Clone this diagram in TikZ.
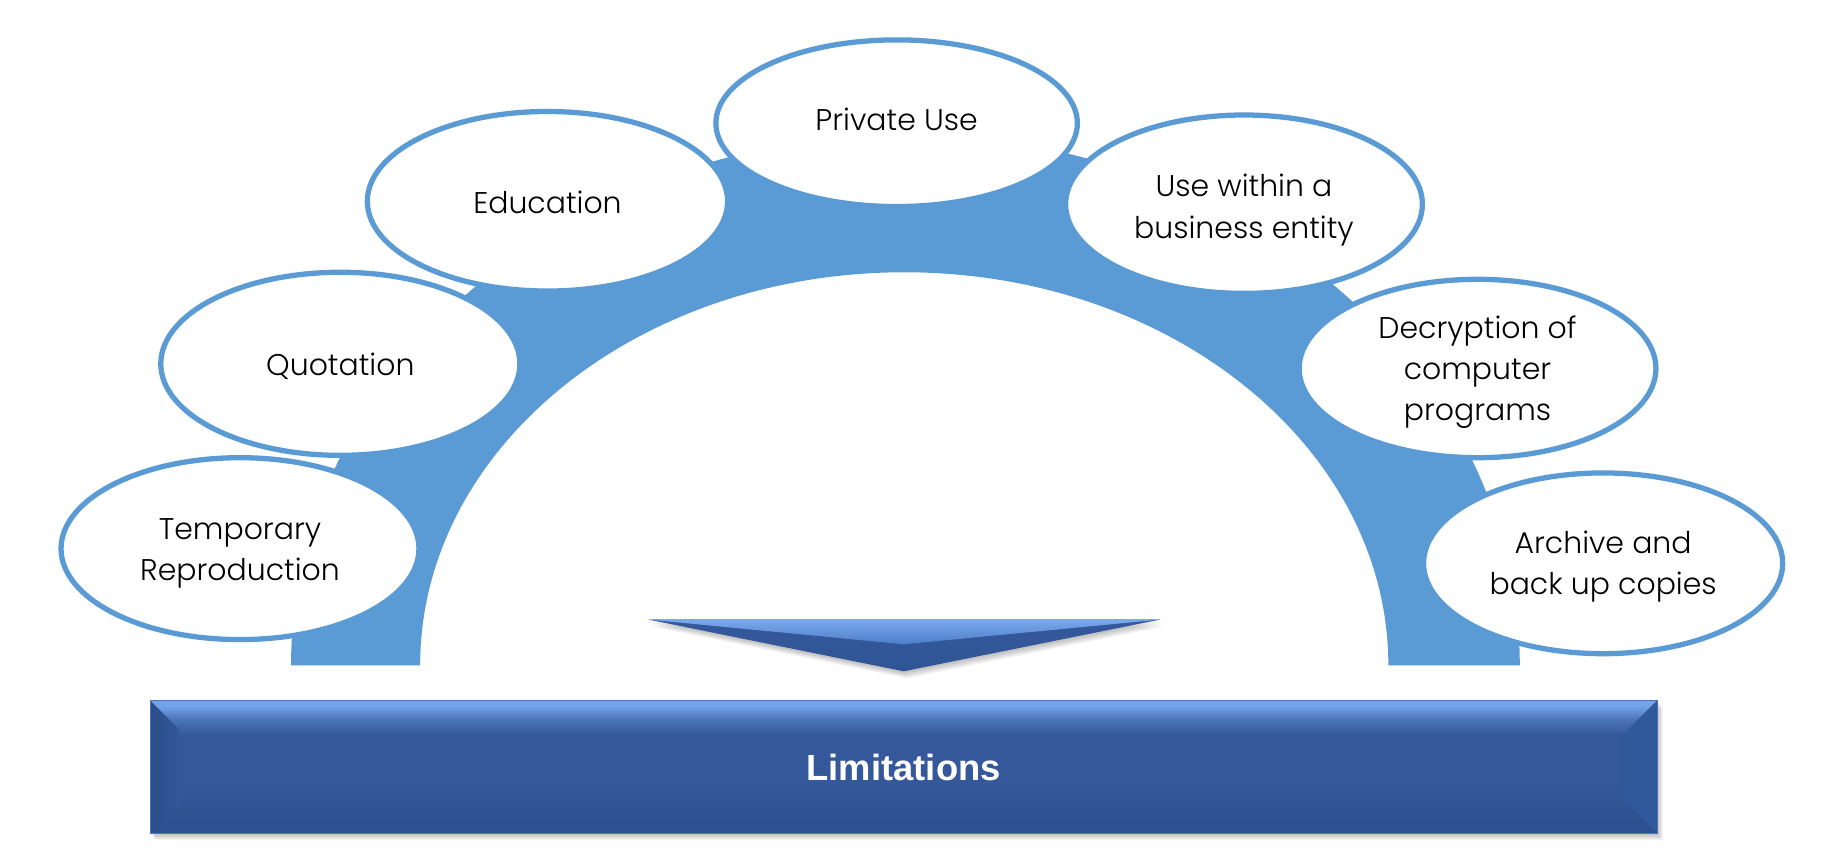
\documentclass[tikz,border=0pt]{standalone}
\usepackage{fontspec}
\setmainfont{Poppins}[UprightFont={* Light}]
\newfontfamily\barfont{Liberation Sans}
\usetikzlibrary{shapes.geometric,calc}
\definecolor{archblue}{HTML}{5B9BD5}
\definecolor{bbot}{HTML}{2C4F8E}
\definecolor{bmid}{HTML}{35589A}
\definecolor{bhi}{HTML}{74A3EA}
\definecolor{bhitwo}{HTML}{4C74B9}
\definecolor{bevl}{HTML}{2B4C88}
\definecolor{bevr}{HTML}{30599B}
\definecolor{tritop}{HTML}{7AA8EE}
\definecolor{trimid}{HTML}{4E7EC8}
\definecolor{tridark}{HTML}{2F5597}
\pgfdeclareverticalshading{barshade}{100bp}{color(0bp)=(bbot); color(25bp)=(bbot); color(45bp)=(bmid); color(62bp)=(bmid); color(68bp)=(bhitwo); color(73bp)=(bhi); color(75bp)=(bhi); color(100bp)=(bhi)}
\tikzset{
  bubble/.style={ellipse, draw=archblue, line width=4.5pt, fill=white, inner sep=0pt},
  btext/.style={align=center, text=black, inner sep=0pt, font=\fontsize{25.5}{35}\selectfont},
  bartext/.style={text=white, font=\barfont\bfseries\fontsize{31}{36}\selectfont}
}
\begin{document}
\begin{tikzpicture}[x=1pt,y=1pt]
\useasboundingbox (0,0) rectangle (1567,729);
\fill[white] (0,0) rectangle (1567,729);
% arch band
\fill[archblue] (248,162) arc[start angle=180,end angle=0,x radius=523.5,y radius=452] -- (1183,162) arc[start angle=0,end angle=180,x radius=412.5,y radius=335] -- cycle;
% bubbles
\node[bubble, minimum width=305pt, minimum height=155pt] (temp) at (204.5,261.5) {};
\node[btext] (temptext) at ([yshift=-4pt]temp.center) {Temporary\\Reproduction};
\node[bubble, minimum width=306pt, minimum height=156pt] (quot) at (290,419) {};
\node[btext] (quottext) at ([yshift=-2pt]quot.center) {Quotation};
\node[bubble, minimum width=307pt, minimum height=153pt] (edu) at (466.5,557.5) {};
\node[btext] (edutext) at ([yshift=-1pt]edu.center) {Education};
\node[bubble, minimum width=308pt, minimum height=142pt] (priv) at (764,624) {};
\node[btext] (privtext) at ([yshift=3pt]priv.center) {Private Use};
\node[bubble, minimum width=304pt, minimum height=152pt] (biz) at (1060,555) {};
\node[btext] (biztext) at ([yshift=-5pt]biz.center) {Use within a\\business entity};
\node[bubble, minimum width=304pt, minimum height=152pt] (decr) at (1259,415) {};
\node[btext] (decrtext) at ([yshift=-3pt]decr.center) {Decryption of\\computer\\programs};
\node[bubble, minimum width=306pt, minimum height=154pt] (arch) at (1366,249) {};
\node[btext] (archtext) at ([yshift=-3pt]arch.center) {Archive and\\back up copies};
% triangle shadow
\foreach \s in {1,2,3,4,5}{
  \fill[black, opacity=0.05] ($(553,201)+(\s*0.6,-\s*1.2)$) -- ($(988,201)+(\s*0.6,-\s*1.2)$) -- ($(770,157)+(\s*0.6,-\s*1.2)$) -- cycle;
}
% triangle
\shade[top color=bmid, bottom color=tridark] (553,201) -- (988,201) -- (770,157) -- cycle;
\shade[top color=tritop, bottom color=trimid] (553,201) -- (988,201) -- (770,180) -- cycle;
\draw[tritop, line width=1pt] (553,201) -- (988,201);
% bar shadow
\foreach \s in {1,2,3,4,5,6}{
  \fill[black, opacity=0.045] (128+\s*0.7,19-\s*1.0) rectangle (1412+\s*0.9,132-\s*1.0);
}
% bar
\shade[shading=barshade] (128,19) rectangle (1412,132);
\shade[left color=bevl, right color=bmid] (128,132) -- (153,107) -- (153,44) -- (128,19) -- cycle;
\fill[bevr] (1412,132) -- (1382,102) -- (1382,49) -- (1412,19) -- cycle;
\draw[bhitwo, line width=0.8pt] (128,19) rectangle (1412,132);
\node[bartext] (lim) at (770,75) {Limitations};
\end{tikzpicture}
\end{document}
